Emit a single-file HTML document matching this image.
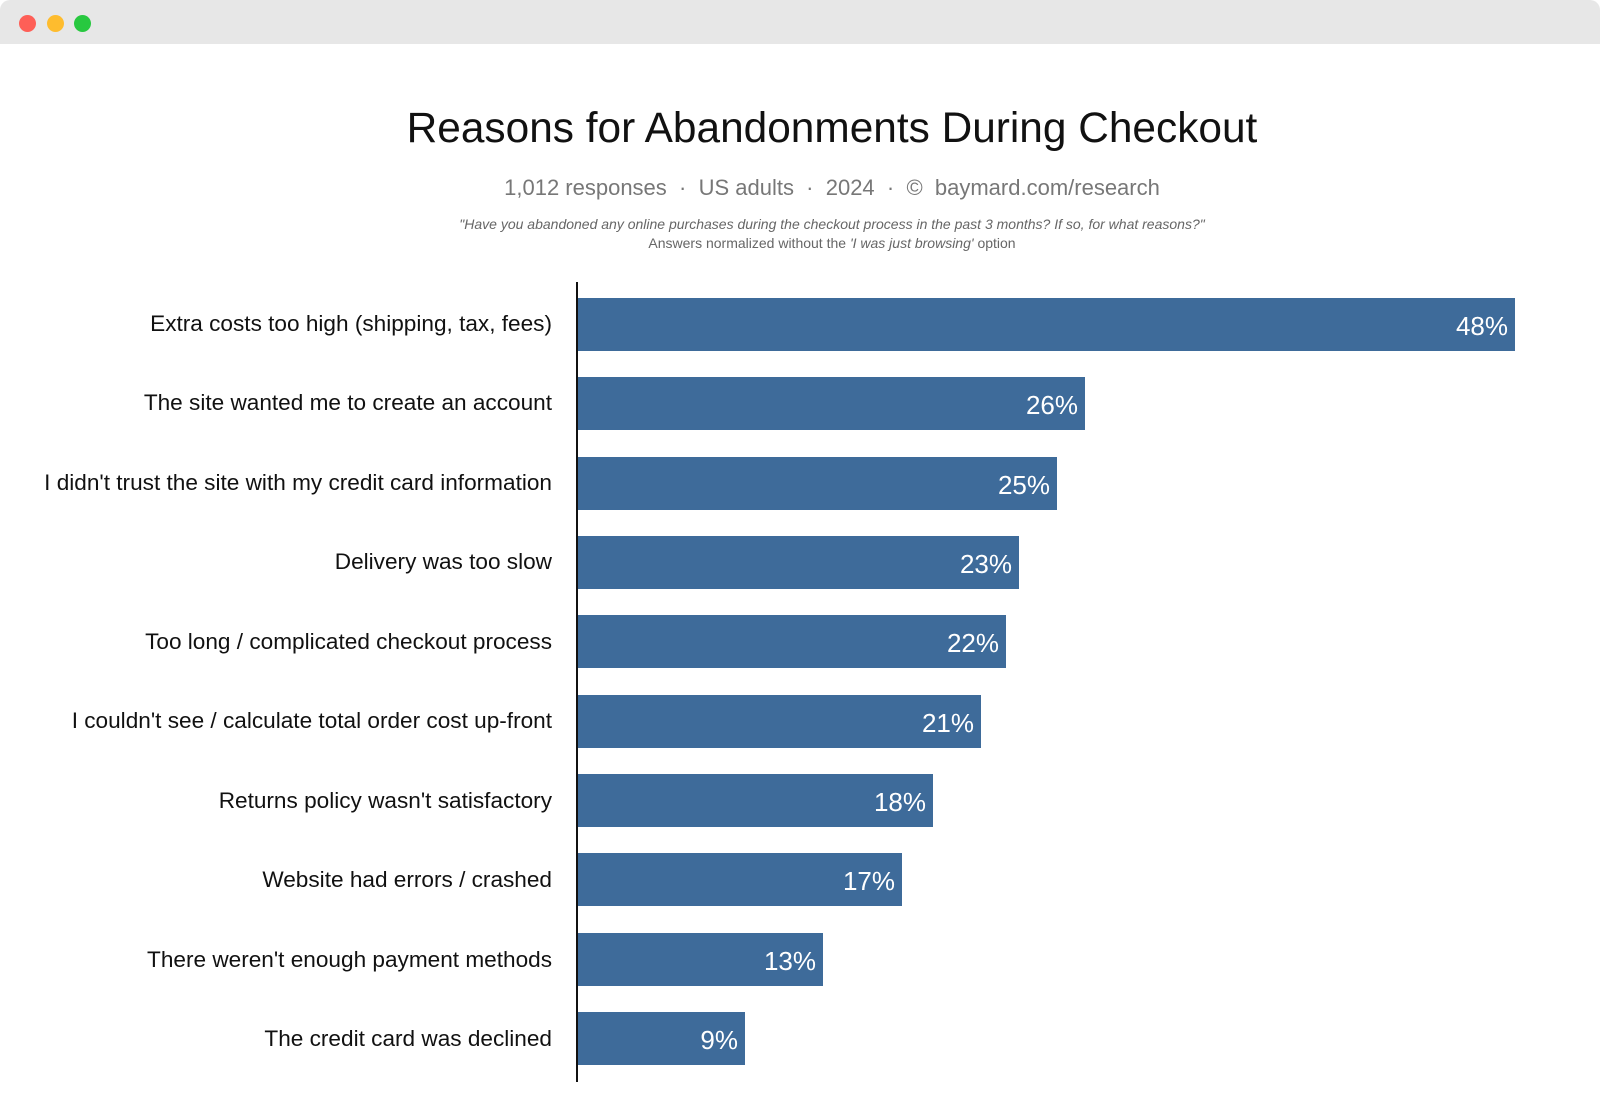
<!DOCTYPE html>
<html><head><meta charset="utf-8"><style>
body{margin:0;width:1600px;height:1120px;background:#fff;font-family:"Liberation Sans",Arial,sans-serif;position:relative;overflow:hidden}
.bar-top{position:absolute;left:0;top:0;width:1600px;height:44px;background:#e7e7e7;border-radius:10px 10px 0 0}
.dot{position:absolute;top:15px;width:17px;height:17px;border-radius:50%}
.t{position:absolute;left:0;width:1664px;text-align:center}
.lab{position:absolute;right:1048px;font-size:22.6px;color:#111;white-space:nowrap;line-height:26px}
.b{position:absolute;left:578px;height:53px;background:#3e6b9a;color:#fff;font-size:26px;text-align:right;box-sizing:border-box;padding-right:7px;line-height:56px}
</style></head><body>
<div class="bar-top"></div>
<div class="dot" style="left:19px;background:#fe5f57"></div>
<div class="dot" style="left:47px;background:#febc2e"></div>
<div class="dot" style="left:74px;background:#28c840"></div>
<div class="t" style="top:104px;font-size:42.4px;color:#111">Reasons for Abandonments During Checkout</div>
<div class="t" style="top:175px;font-size:22px;color:#777">1,012 responses &nbsp;·&nbsp; US adults &nbsp;·&nbsp; 2024 &nbsp;·&nbsp; © &nbsp;baymard.com/research</div>
<div class="t" style="top:216px;font-size:14px;color:#666;font-style:italic">"Have you abandoned any online purchases during the checkout process in the past 3 months? If so, for what reasons?"</div>
<div class="t" style="top:235px;font-size:14px;color:#666">Answers normalized without the <i>'I was just browsing'</i> option</div>
<div style="position:absolute;left:576px;top:282px;width:2px;height:800px;background:#111"></div>
<div class="lab" style="top:311px">Extra costs too high (shipping, tax, fees)</div>
<div class="b" style="top:298px;width:937px">48%</div>
<div class="lab" style="top:390px">The site wanted me to create an account</div>
<div class="b" style="top:377px;width:507px">26%</div>
<div class="lab" style="top:470px">I didn't trust the site with my credit card information</div>
<div class="b" style="top:457px;width:479px">25%</div>
<div class="lab" style="top:549px">Delivery was too slow</div>
<div class="b" style="top:536px;width:441px">23%</div>
<div class="lab" style="top:629px">Too long / complicated checkout process</div>
<div class="b" style="top:615px;width:428px">22%</div>
<div class="lab" style="top:708px">I couldn't see / calculate total order cost up-front</div>
<div class="b" style="top:695px;width:403px">21%</div>
<div class="lab" style="top:788px">Returns policy wasn't satisfactory</div>
<div class="b" style="top:774px;width:355px">18%</div>
<div class="lab" style="top:867px">Website had errors / crashed</div>
<div class="b" style="top:853px;width:324px">17%</div>
<div class="lab" style="top:947px">There weren't enough payment methods</div>
<div class="b" style="top:933px;width:245px">13%</div>
<div class="lab" style="top:1026px">The credit card was declined</div>
<div class="b" style="top:1012px;width:167px">9%</div>
</body></html>
